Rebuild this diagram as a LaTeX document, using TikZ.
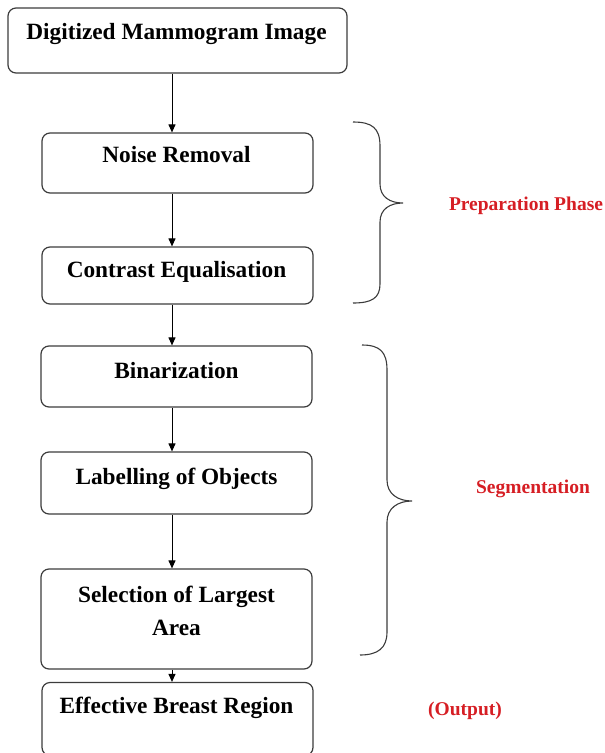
\documentclass[tikz,border=0pt]{standalone}
\usepackage{fontspec}
\setmainfont{Liberation Serif}
\usetikzlibrary{arrows.meta}
\definecolor{lbred}{RGB}{214,30,36}
\definecolor{boxline}{RGB}{60,60,60}
\tikzset{
  box/.style={draw=boxline, line width=1.2pt, rounded corners=8pt, minimum width=271pt, inner sep=0pt},
  lbl/.style={font=\fontsize{23.3}{33}\selectfont\bfseries, anchor=base, inner sep=0pt, align=center},
  note/.style={font=\fontsize{19.5}{24}\selectfont\bfseries, text=lbred, anchor=base, inner sep=0pt},
  arrow/.style={line width=1pt, -{Triangle[length=8pt,width=7pt]}},
  brace/.style={draw=boxline, line width=1.1pt}
}
\begin{document}
\begin{tikzpicture}[x=1pt,y=-1pt]
\useasboundingbox (0,0) rectangle (605,753);
\coordinate (ax) at (172,0);
% boxes
\node[box, minimum width=339pt, minimum height=65pt] (b1) at (177.5,40.5) {};
\node[box, minimum height=60pt] (b2) at (177.5,163) {};
\node[box, minimum height=57pt] (b3) at (177.5,275.5) {};
\node[box, minimum height=61pt] (b4) at (176.5,376.5) {};
\node[box, minimum height=62pt] (b5) at (176.5,483) {};
\node[box, minimum height=100pt] (b6) at (176.5,619) {};
\node[box, minimum height=73pt] (b7) at (177.5,719) {};
% texts
\node[lbl] (t1) at (176.5,39) {Digitized Mammogram Image};
\node[lbl] (t2) at (176.5,162) {Noise Removal};
\node[lbl] (t3) at (176.5,277) {Contrast Equalisation};
\node[lbl] (t4) at (176.5,378) {Binarization};
\node[lbl] (t5) at (176.5,484) {Labelling of Objects};
\node[lbl] (t6) at (176.5,635) {Selection of Largest\\Area};
\node[lbl] (t7) at (176.5,713) {Effective Breast Region};
% arrows
\draw[arrow] (b1.south -| ax) -- (b2.north -| ax);
\draw[arrow] (b2.south -| ax) -- (b3.north -| ax);
\draw[arrow] (b3.south -| ax) -- (b4.north -| ax);
\draw[arrow] (b4.south -| ax) -- (b5.north -| ax);
\draw[arrow] (b5.south -| ax) -- (b6.north -| ax);
\draw[arrow] (b6.south -| ax) -- (b7.north -| ax);
% braces
\draw[brace] (353,122) .. controls (372,122) and (380,128) .. (380,146) -- (380,184)
  .. controls (380,197) and (390,203) .. (403,203)
  .. controls (390,203) and (380,209) .. (380,222) -- (380,284)
  .. controls (380,298) and (372,303) .. (353,303);
\draw[brace] (362,345) .. controls (380,345) and (387,352) .. (387,370) -- (387,480)
  .. controls (387,494) and (398,501) .. (412,501)
  .. controls (398,501) and (387,508) .. (387,522) -- (387,632)
  .. controls (387,648) and (378,655) .. (360,655);
% notes
\node[note] (n1) at (526,210) {Preparation Phase};
\node[note] (n2) at (533,493) {Segmentation};
\node[note] (n3) at (465,715) {(Output)};
\end{tikzpicture}
\end{document}
